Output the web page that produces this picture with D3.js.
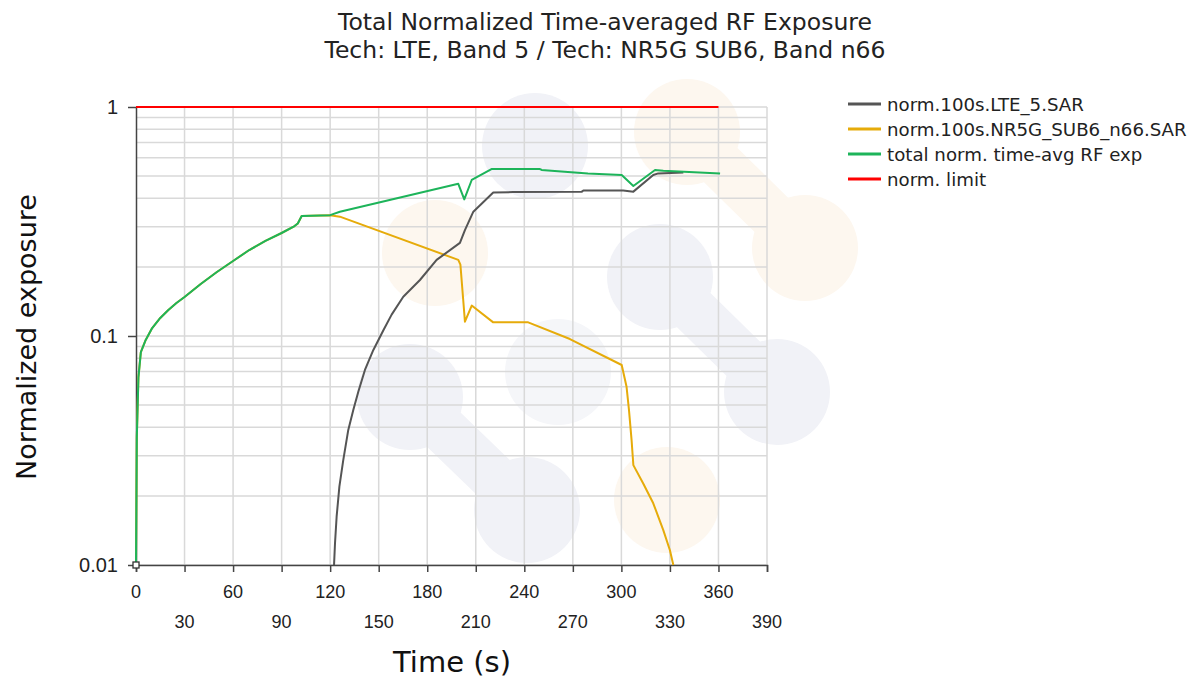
<!DOCTYPE html>
<html>
<head>
<meta charset="utf-8">
<script src="https://cdn.jsdelivr.net/npm/d3@7"></script>
<style>
  body { margin: 0; background: #fff; }
  svg { display: block; }
</style>
</head>
<body>
<svg id="chart"></svg>
<script>
// series: [time (s), normalized exposure]
const lteSar = [
  [122.4, 0.01], [123, 0.01245], [124, 0.01625], [125.7, 0.022], [128.1, 0.0287],
  [131.2, 0.0389], [134.3, 0.0475], [137.4, 0.0571], [141.5, 0.0711], [146.7, 0.0869],
  [152.9, 0.106], [158, 0.124], [165.2, 0.1485], [175.5, 0.1756], [185.8, 0.215], [200.2, 0.255],
  [203.3, 0.29], [208.5, 0.349], [220.8, 0.423], [233, 0.425], [275.4, 0.426],
  [276.5, 0.432], [301.1, 0.432], [307.4, 0.427], [319.7, 0.505], [322.8, 0.513],
  [338.3, 0.517]
]
const nrSar = [
  [0, 0.01], [0.5, 0.036], [1.5, 0.066], [3, 0.0851], [6, 0.0961], [10, 0.1083],
  [15, 0.1199], [20, 0.1299], [25, 0.1393], [30, 0.148], [40, 0.1687], [50, 0.1903],
  [60, 0.2126], [70, 0.2374], [80, 0.26], [90, 0.2817], [98, 0.3021], [100, 0.31],
  [102.4, 0.334], [120, 0.337], [126, 0.332],
  [199.2, 0.215], [200.5, 0.205], [202.1, 0.148], [203.3, 0.1155], [207.5, 0.1358],
  [220.8, 0.1147], [242.4, 0.1147], [268.2, 0.097], [300.2, 0.0747], [303.2, 0.06],
  [304.7, 0.0475], [306.3, 0.0351], [307.4, 0.0273], [313.5, 0.0227], [319.7, 0.0186],
  [325.9, 0.0142], [330, 0.0116], [332.1, 0.01]
]
const totalExp = [
  [0, 0.01], [0.5, 0.036], [1.5, 0.066], [3, 0.0851], [6, 0.0961], [10, 0.1083],
  [15, 0.1199], [20, 0.1299], [25, 0.1393], [30, 0.148], [40, 0.1687], [50, 0.1903],
  [60, 0.2126], [70, 0.2374], [80, 0.26], [90, 0.2817], [98, 0.3021], [100, 0.31],
  [102.4, 0.334], [120, 0.337], [126, 0.349],
  [199.2, 0.462], [202.9, 0.395], [207.5, 0.48], [219.7, 0.536], [249.7, 0.536],
  [250.7, 0.531], [264.9, 0.522], [279.3, 0.513], [300.2, 0.505], [307.4, 0.452],
  [320.8, 0.531], [325.9, 0.527], [361, 0.513]
]
const normLimit = [[0, 1], [360, 1]]

const seriesNames = ['norm.100s.LTE_5.SAR', 'norm.100s.NR5G_SUB6_n66.SAR', 'total norm. time-avg RF exp', 'norm. limit']
const seriesColors = ['#555555', '#e6ab0a', '#1db45a', '#ff0000']
const seriesData = [lteSar, nrSar, totalExp, normLimit]

const xTicks = d3.range(0, 391, 30)
const yTicks = [0.01, 0.1, 1]

const titleLines = ['Total Normalized Time-averaged RF Exposure', 'Tech: LTE, Band 5 / Tech: NR5G SUB6, Band n66']

const width = 1198, height = 679
const margin = {top: 107, right: 431, bottom: 114, left: 136}
const innerW = width - margin.left - margin.right
const innerH = height - margin.top - margin.bottom

const svg = d3.select('#chart').attr('width', width).attr('height', height)
    .style('font-family', '"DejaVu Sans", Verdana, sans-serif')

const x = d3.scaleLinear().domain([0, 390]).range([margin.left, margin.left + innerW])
const y = d3.scaleLog().domain([0.01, 1]).range([margin.top + innerH, margin.top])

// faint logo watermark behind the plot
const blue = '#f1f2f7', orange = '#fdf7ef'
const wm = svg.append('g')
const blobs = [
  {c: [535, 146], f: blue}, {c: [410, 397], f: blue}, {c: [527, 510], f: blue},
  {c: [558, 372], f: '#f5f6f9'}, {c: [660, 277], f: blue}, {c: [777, 392], f: blue},
  {c: [687, 132], f: orange}, {c: [805, 248], f: orange}, {c: [435, 253], f: orange},
  {c: [667, 500], f: orange}
]
const links = [[1, 2], [4, 5], [6, 7]]
links.forEach(l => {
  wm.append('line')
    .attr('x1', blobs[l[0]].c[0]).attr('y1', blobs[l[0]].c[1])
    .attr('x2', blobs[l[1]].c[0]).attr('y2', blobs[l[1]].c[1])
    .attr('stroke', blobs[l[0]].f).attr('stroke-width', 48)
})
wm.selectAll('circle').data(blobs).enter().append('circle')
    .attr('cx', d => d.c[0]).attr('cy', d => d.c[1]).attr('r', 53)
    .attr('fill', d => d.f)

// grid
const grid = svg.append('g').attr('stroke', '#d9d9d9').attr('stroke-width', 1.5)
grid.selectAll('line.v').data(xTicks.slice(1)).enter().append('line')
    .attr('x1', d => x(d)).attr('x2', d => x(d))
    .attr('y1', y(1)).attr('y2', y(0.01))
grid.selectAll('line.h').data(y.ticks()).enter().append('line')
    .attr('x1', x(0)).attr('x2', x(390))
    .attr('y1', d => y(d)).attr('y2', d => y(d))

// axes
const xAxis = svg.append('g')
    .attr('transform', `translate(0,${y(0.01)})`)
    .call(d3.axisBottom(x).tickValues(xTicks).tickSize(7).tickFormat(''))
xAxis.select('.domain').attr('stroke', '#444').attr('stroke-width', 1.5)
xAxis.selectAll('.tick line').attr('stroke', '#444').attr('stroke-width', 1.5)

const yAxis = svg.append('g')
    .attr('transform', `translate(${x(0)},0)`)
    .call(d3.axisLeft(y).tickValues(yTicks).tickSize(8).tickSizeOuter(0).tickFormat(''))
yAxis.select('.domain').attr('stroke', '#444').attr('stroke-width', 1.5)
yAxis.selectAll('.tick line').attr('stroke', '#444').attr('stroke-width', 1.5)

const tickFont = '"Liberation Sans Narrow", "Arial Narrow", sans-serif'
svg.append('g').selectAll('text').data(xTicks).enter().append('text')
    .attr('x', d => x(d))
    .attr('y', (d, i) => i % 2 === 0 ? 598 : 628)
    .attr('text-anchor', 'middle')
    .style('font-family', tickFont).style('font-size', '18px').attr('fill', '#222')
    .text(d => d)
svg.append('g').selectAll('text').data(yTicks).enter().append('text')
    .attr('x', 118).attr('y', d => y(d) + 7)
    .attr('text-anchor', 'end')
    .style('font-family', tickFont).style('font-size', '20px').attr('fill', '#222')
    .text(d => d)

// lines
const line = d3.line().x(d => x(d[0])).y(d => y(d[1]))
const order = [3, 1, 0, 2]
order.forEach(i => {
  svg.append('path')
      .datum(seriesData[i])
      .attr('fill', 'none')
      .attr('stroke', seriesColors[i])
      .attr('stroke-width', 2)
      .attr('stroke-linejoin', 'round')
      .attr('d', line)
})

// origin marker
svg.append('rect')
    .attr('x', x(0) - 3).attr('y', y(0.01) - 3).attr('width', 6).attr('height', 6)
    .attr('fill', '#fff').attr('stroke', '#333').attr('stroke-width', 1.3)

// titles
svg.append('g').selectAll('text').data(titleLines).enter().append('text')
    .attr('x', 605).attr('y', (d, i) => 30 + i * 28)
    .attr('text-anchor', 'middle')
    .style('font-size', '23.5px').attr('fill', '#222')
    .text(d => d)

svg.append('text')
    .attr('x', 452).attr('y', 672)
    .attr('text-anchor', 'middle')
    .style('font-size', '29px').attr('fill', '#111')
    .text('Time (s)')

svg.append('text')
    .attr('transform', `translate(36,337) rotate(-90)`)
    .attr('text-anchor', 'middle')
    .style('font-size', '27px').attr('fill', '#111')
    .text('Normalized exposure')

// legend
const legend = svg.append('g').attr('transform', 'translate(848,104)')
const item = legend.selectAll('g').data(seriesNames).enter().append('g')
    .attr('transform', (d, i) => `translate(0,${i * 25})`)
item.append('line')
    .attr('x1', 0).attr('x2', 33).attr('y1', 0).attr('y2', 0)
    .attr('stroke', (d, i) => seriesColors[i]).attr('stroke-width', 3)
item.append('text')
    .attr('x', 39).attr('y', 6.5)
    .style('font-size', '18.2px').attr('fill', '#222')
    .text(d => d)
</script>
</body>
</html>
